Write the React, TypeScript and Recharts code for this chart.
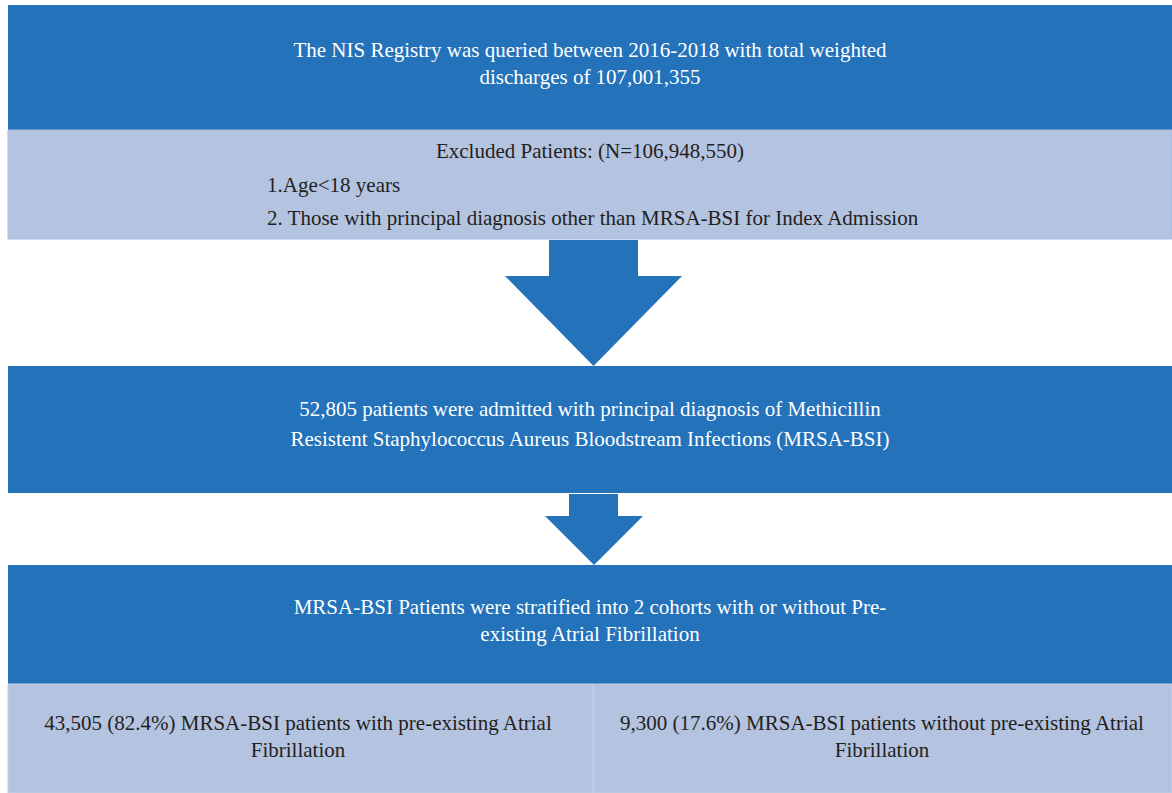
import React from "react";
import { ComposedChart, XAxis, YAxis, ReferenceArea, Scatter } from "recharts";

// ---- content ----
const titleLines = [
  "The NIS Registry was queried between 2016-2018 with total weighted",
  "discharges of 107,001,355",
];
const excludedHeader = ["Excluded Patients: (N=106,948,550)"];
const exclusionCriteria = [
  "1.Age<18 years",
  "2. Those with principal diagnosis other than MRSA-BSI for Index Admission",
];
const cohortLines = [
  "52,805 patients were admitted with principal diagnosis of Methicillin",
  "Resistent Staphylococcus Aureus Bloodstream Infections (MRSA-BSI)",
];
const stratifiedLines = [
  "MRSA-BSI Patients were stratified into 2 cohorts with or without Pre-",
  "existing Atrial Fibrillation",
];
const afLines = [
  "43,505 (82.4%) MRSA-BSI patients with pre-existing Atrial",
  "Fibrillation",
];
const noAfLines = [
  "9,300 (17.6%) MRSA-BSI patients without pre-existing Atrial",
  "Fibrillation",
];

// ---- layout (flowchart coordinates, px units on the hidden axes) ----
const W = 1172;
const H = 793;
const DARK = "#2372BA";
const LIGHT = "#B4C3E0";

type Box = { x1: number; x2: number; y1: number; y2: number; fill: string; stroke: string };
const boxes: Box[] = [
  { x1: 8, x2: 1172, y1: 5, y2: 130, fill: DARK, stroke: "none" },
  { x1: 8, x2: 1172, y1: 130, y2: 239, fill: LIGHT, stroke: "#a7bbe0" },
  { x1: 8, x2: 1172, y1: 366, y2: 493, fill: DARK, stroke: "none" },
  { x1: 8, x2: 1172, y1: 565, y2: 684, fill: DARK, stroke: "none" },
  { x1: 8, x2: 593, y1: 684, y2: 793, fill: LIGHT, stroke: "#c3cfe8" },
  { x1: 593, x2: 1172, y1: 684, y2: 793, fill: LIGHT, stroke: "#c3cfe8" },
];

type Arrow = { x1: number; x2: number; y1: number; y2: number; shaftL: number; shaftR: number; headY: number };
const arrows: Arrow[] = [
  { x1: 505, x2: 682, y1: 240, y2: 366, shaftL: 549, shaftR: 638, headY: 276 },
  { x1: 545, x2: 643, y1: 494, y2: 565, shaftL: 569, shaftR: 618, headY: 516 },
];

type TextPt = { x: number; y: number; text: string; color: string; anchor: string };
const textPoints: TextPt[] = [];
function addLines(lines: string[], x: number, y0: number, dy: number, color: string, anchor = "middle") {
  lines.forEach((t, i) => textPoints.push({ x, y: y0 + i * dy, text: t, color, anchor }));
}
addLines(titleLines, 590, 57, 27, "#ffffff");
addLines(excludedHeader, 590, 158, 27, "#231f20");
addLines(exclusionCriteria, 267, 192, 33, "#231f20", "start");
addLines(cohortLines, 590, 416, 30, "#ffffff");
addLines(stratifiedLines, 590, 614, 27, "#ffffff");
addLines(afLines, 298, 730, 27, "#231f20");
addLines(noAfLines, 882, 730, 27, "#231f20");

const FONT = "'Liberation Serif', 'DejaVu Serif', serif";

const TextShape = (props: any) => {
  const { cx, cy, payload } = props;
  return (
    <text
      x={cx}
      y={cy}
      textAnchor={payload.anchor}
      fill={payload.color}
      fontFamily={FONT}
      fontSize={21}
    >
      {payload.text}
    </text>
  );
};

const makeArrowShape = (a: Arrow) => (props: any) => {
  const { x, y, width, height } = props;
  const sx = width / (a.x2 - a.x1);
  const sy = height / (a.y2 - a.y1);
  const px = (v: number) => x + (v - a.x1) * sx;
  const py = (v: number) => y + (v - a.y1) * sy;
  const mid = (a.x1 + a.x2) / 2;
  const pts = [
    [px(a.shaftL), py(a.y1)],
    [px(a.shaftR), py(a.y1)],
    [px(a.shaftR), py(a.headY)],
    [px(a.x2), py(a.headY)],
    [px(mid), py(a.y2)],
    [px(a.x1), py(a.headY)],
    [px(a.shaftL), py(a.headY)],
  ]
    .map((p) => p.join(","))
    .join(" ");
  return <polygon points={pts} fill={DARK} />;
};

export default function App() {
  return (
    <div style={{ position: "absolute", left: 0, top: 0, background: "#fff" }}>
      <ComposedChart width={W} height={H} data={textPoints} margin={{ top: 0, right: 0, bottom: 0, left: 0 }}>
        <XAxis type="number" dataKey="x" domain={[0, W]} hide allowDataOverflow />
        <YAxis type="number" dataKey="y" domain={[0, H]} reversed hide allowDataOverflow />
        {boxes.map((b, i) => (
          <ReferenceArea
            key={"b" + i}
            x1={b.x1}
            x2={b.x2}
            y1={b.y1}
            y2={b.y2}
            fill={b.fill}
            fillOpacity={1}
            stroke={b.stroke}
            strokeWidth={1}
            ifOverflow="visible"
          />
        ))}
        {arrows.map((a, i) => (
          <ReferenceArea
            key={"a" + i}
            x1={a.x1}
            x2={a.x2}
            y1={a.y1}
            y2={a.y2}
            ifOverflow="visible"
            shape={makeArrowShape(a)}
          />
        ))}
        <Scatter data={textPoints} dataKey="y" shape={TextShape} isAnimationActive={false} />
      </ComposedChart>
    </div>
  );
}
